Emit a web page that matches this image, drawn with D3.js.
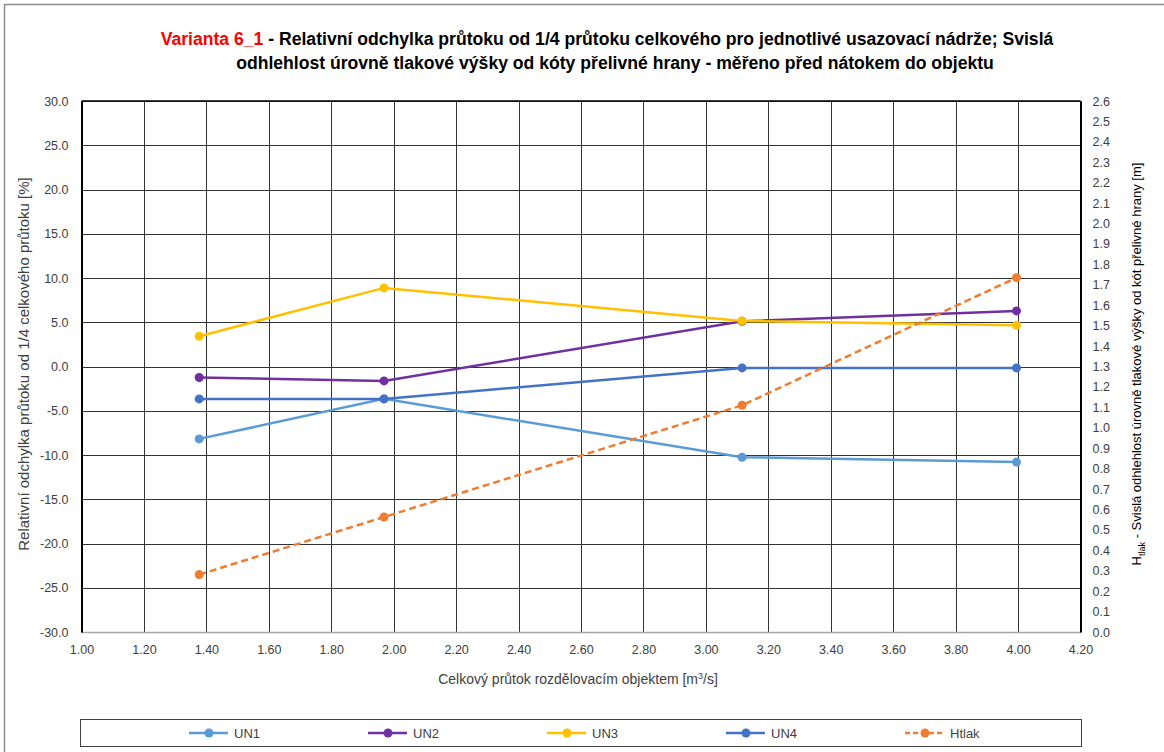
<!DOCTYPE html>
<html><head><meta charset="utf-8">
<script src="https://cdn.jsdelivr.net/npm/d3@7"></script>
<style>
body{margin:0;background:#fff;}
svg{display:block;font-family:"Liberation Sans",Arial,sans-serif;}
</style></head>
<body><svg id="c" width="1164" height="752"></svg>
<script>
const flows = [1.377, 1.969, 3.116, 3.995];
const un1 = [-8.18, -3.66, -10.25, -10.8];
const un2 = [-1.24, -1.63, 5.1, 6.28];
const un3 = [3.42, 8.88, 5.15, 4.67];
const un4 = [-3.66, -3.66, -0.16, -0.16];
const htlak = [0.281, 0.563, 1.11, 1.735];
const seriesNames = ["UN1","UN2","UN3","UN4","Htlak"];
const seriesColors = ["#5B9BD5","#7030A0","#FFC000","#4472C4","#ED7D31"];
const xTicks = d3.range(1.0, 4.2001, 0.2);
const yTicks = d3.range(-30, 30.001, 5);
const y2Ticks = d3.range(0, 2.6001, 0.1);

const svg = d3.select("#c");
const L=81.5, R=1080.5, T=101, B=632;
const x = d3.scaleLinear().domain([1.0,4.2]).range([L,R]);
const y = d3.scaleLinear().domain([-30,30]).range([B,T]);
const y2 = d3.scaleLinear().domain([0,2.6]).range([B,T]);
const fmt = p => d => d3.format(p)(d).replace("\u2212","-");

// outer border
svg.append("rect").attr("x",4.5).attr("y",4.5).attr("width",1200).attr("height",800)
  .attr("fill","none").attr("stroke","#8c8c8c").attr("stroke-width",1.5);

// grid
svg.append("g").selectAll("line").data(xTicks).join("line")
  .attr("x1",d=>Math.round(x(d))+0.5).attr("x2",d=>Math.round(x(d))+0.5).attr("y1",T).attr("y2",B)
  .attr("stroke","#333").attr("stroke-width",1);
svg.append("g").selectAll("line").data(yTicks).join("line")
  .attr("y1",d=>Math.round(y(d))+0.5).attr("y2",d=>Math.round(y(d))+0.5).attr("x1",L).attr("x2",R)
  .attr("stroke","#333").attr("stroke-width",1);

// axes
const fs = 12.5;
const gx = svg.append("g").attr("transform",`translate(0,${B})`)
  .call(d3.axisBottom(x).tickValues(xTicks).tickFormat(fmt(".2f")).tickSize(0).tickPadding(13));
gx.select(".domain").attr("stroke","#a6a6a6").attr("stroke-width",1.5);
const gy = svg.append("g").attr("transform",`translate(${L},0)`)
  .call(d3.axisLeft(y).tickValues(yTicks).tickFormat(fmt(".1f")).tickSize(0).tickPadding(13));
gy.select(".domain").attr("stroke","#000").attr("stroke-width",2);
const gy2 = svg.append("g").attr("transform",`translate(${R},0)`)
  .call(d3.axisRight(y2).tickValues(y2Ticks).tickFormat(fmt(".1f")).tickSize(0).tickPadding(12));
gy2.select(".domain").attr("stroke","#000").attr("stroke-width",2);
svg.selectAll(".tick text").attr("font-size",fs).attr("fill","#404040")
  .attr("font-family",'"Liberation Sans",Arial,sans-serif');
// top border
svg.append("line").attr("x1",L).attr("x2",R).attr("y1",T).attr("y2",T).attr("stroke","#000").attr("stroke-width",1.5);

// axis titles
svg.append("text").attr("x",578).attr("y",684).attr("text-anchor","middle").attr("font-size",14).attr("fill","#404040")
  .html('Celkový průtok rozdělovacím objektem [m<tspan dy="-5" font-size="9">3</tspan><tspan dy="5">/s]</tspan>');
svg.append("text").attr("transform","translate(29,364) rotate(-90)").attr("text-anchor","middle")
  .attr("font-size",15).attr("fill","#404040")
  .text("Relativní odchylka průtoku od 1/4 celkového průtoku [%]");
svg.append("text").attr("transform","translate(1141,364) rotate(-90)").attr("text-anchor","middle")
  .attr("font-size",13).attr("fill","#000")
  .html('H<tspan dy="4" font-size="9">tlak</tspan><tspan dy="-4"> - Svislá odhlehlost úrovně tlakové výšky od kót přelivné hrany [m]</tspan>');

// title
const title = svg.append("g").attr("font-weight","bold").attr("font-size",17.6);
const t1 = title.append("text").attr("x",607).attr("y",45).attr("text-anchor","middle").attr("fill","#000");
t1.append("tspan").attr("fill","#FF0000").text("Varianta 6_1");
t1.append("tspan").text(" - Relativní odchylka průtoku od 1/4 průtoku celkového pro jednotlivé usazovací nádrže; Svislá");
const t2 = title.append("text").attr("x",615).attr("y",69).attr("text-anchor","middle").attr("fill","#000")
  .text("odhlehlost úrovně tlakové výšky od kóty přelivné hrany - měřeno před nátokem do objektu");

// series
const data = [un1,un2,un3,un4];
data.forEach((vals,i)=>{
  const pts = flows.map((f,j)=>[f,vals[j]]);
  svg.append("path").datum(pts).attr("fill","none").attr("stroke",seriesColors[i]).attr("stroke-width",2.5)
    .attr("d",d3.line().x(d=>x(d[0])).y(d=>y(d[1])));
  svg.append("g").selectAll("circle").data(pts).join("circle")
    .attr("cx",d=>x(d[0])).attr("cy",d=>y(d[1])).attr("r",4.5).attr("fill",seriesColors[i]);
});
const hp = flows.map((f,j)=>[f,htlak[j]]);
svg.append("path").datum(hp).attr("fill","none").attr("stroke",seriesColors[4]).attr("stroke-width",2.5)
  .attr("stroke-dasharray","7,4").attr("d",d3.line().x(d=>x(d[0])).y(d=>y2(d[1])));
svg.append("g").selectAll("circle").data(hp).join("circle")
  .attr("cx",d=>x(d[0])).attr("cy",d=>y2(d[1])).attr("r",4.5).attr("fill",seriesColors[4]);

// legend
svg.append("rect").attr("x",80.5).attr("y",719.5).attr("width",1001).attr("height",27)
  .attr("fill","#fff").attr("stroke","#404040").attr("stroke-width",1);
const lg = svg.append("g").selectAll("g").data(seriesNames).join("g")
  .attr("transform",(d,i)=>`translate(${189+i*179},733)`);
lg.append("line").attr("x1",0).attr("x2",39).attr("stroke",(d,i)=>seriesColors[i]).attr("stroke-width",2.5)
  .attr("stroke-dasharray",(d,i)=>i===4?"5,3":null);
lg.append("circle").attr("cx",20).attr("r",4.5).attr("fill",(d,i)=>seriesColors[i]);
lg.append("text").attr("x",45).attr("dy","0.35em").attr("font-size",13).attr("fill","#404040").text(d=>d);
</script></body></html>
